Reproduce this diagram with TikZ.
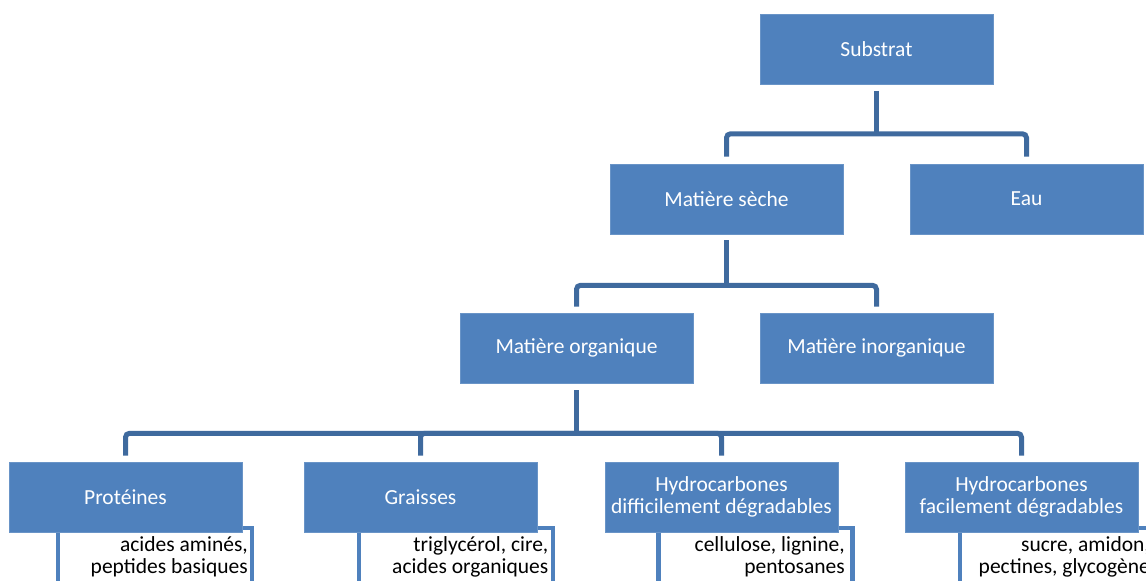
\documentclass[tikz,border=0pt]{standalone}
\usepackage{fontspec}
\setmainfont{Carlito}
\usetikzlibrary{calc}
\definecolor{boxblue}{HTML}{4F81BD}
\definecolor{linkblue}{HTML}{3F6A9E}
\tikzset{
  blue box/.style={rectangle, fill=boxblue, draw=boxblue!85!white, line width=0.6pt,
    minimum width=233pt, minimum height=70pt, inner sep=2pt, text=white, align=center,
    font=\fontsize{21.5}{21.5}\selectfont},
  note box/.style={rectangle, fill=white, draw=boxblue, line width=4.5pt,
    minimum width=194pt, minimum height=90pt, anchor=north west, inner sep=0pt},
  note text/.style={anchor=north east, inner sep=0pt, align=right, text=black,
    font=\fontsize{21.5}{21.5}\selectfont},
  conn/.style={draw=linkblue, line width=5pt, rounded corners=4pt}
}
\begin{document}
\begin{tikzpicture}[x=1pt,y=-1pt]
\useasboundingbox (0,0) rectangle (1146,581);
% note boxes (behind the blue boxes)
\node[note box] (n1) at (55.5,525.5) {};
\node[note box] (n2) at (356.5,525.5) {};
\node[note box] (n3) at (656,525.5) {};
\node[note box] (n4) at (957.5,525.5) {};
\node[note text] (t1) at ($(n1.north east)+(-6,11)$) {acides aminés,\\peptides basiques};
\node[note text] (t2) at ($(n2.north east)+(-6.5,11)$) {triglycérol, cire,\\acides organiques};
\node[note text] (t3) at ($(n3.north east)+(-9.5,11)$) {cellulose, lignine,\\pentosanes};
\node[note text] (t4) at ($(n4.north east)+(-6,11)$) {sucre, amidon,\\pectines, glycogène};
% blue boxes
\node[blue box] (sub) at (876.5,49.5) {Substrat};
\node[blue box] (ms) at (726.5,199) {Matière sèche};
\node[blue box] (eau) at (1026.5,199) {Eau};
\node[blue box] (mo) at (576.5,348) {Matière organique};
\node[blue box] (mi) at (876.5,348) {Matière inorganique};
\node[blue box] (pro) at (125.5,497) {Protéines};
\node[blue box] (gra) at (420.5,497) {Graisses};
\node[blue box] (hd) at (721.5,497) {Hydrocarbones\\difficilement dégradables};
\node[blue box] (hf) at (1021.5,497) {Hydrocarbones\\facilement dégradables};
% buses
\coordinate (b1) at ($(sub.south)+(0,49)$);
\coordinate (b2) at ($(ms.south)+(0,51)$);
\coordinate (b3) at ($(mo.south)+(0,50)$);
% connectors
\draw[conn] ([yshift=-6pt]sub.south) -- (b1);
\draw[conn] ([yshift=7pt]ms.north) |- (b1) -| ([yshift=7pt]eau.north);
\draw[conn] ([yshift=-6pt]ms.south) -- (b2);
\draw[conn] ([yshift=6pt]mo.north) |- (b2) -| ([yshift=6pt]mi.north);
\draw[conn] ([yshift=-7pt]mo.south) -- (b3);
\draw[conn] ([yshift=6pt]pro.north) |- (b3) -| ([yshift=6pt]hf.north);
\draw[conn] ([yshift=6pt]gra.north) |- (b3);
\draw[conn] ([yshift=6pt]hd.north) |- (b3);
\end{tikzpicture}
\end{document}
